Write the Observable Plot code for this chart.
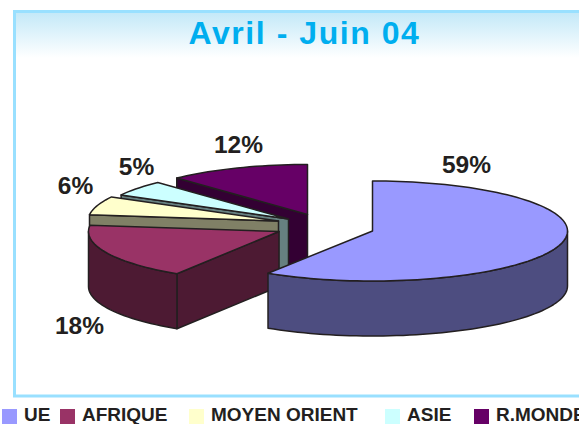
<!DOCTYPE html>
<html>
<head>
<meta charset="utf-8">
<script src="https://cdn.jsdelivr.net/npm/d3@7"></script>
<script src="https://cdn.jsdelivr.net/npm/@observablehq/plot@0.6"></script>
<style>
html,body{margin:0;padding:0;background:#fff;width:579px;height:424px;overflow:hidden}
body{position:relative;font-family:"Liberation Sans",Arial,sans-serif}
#title{position:absolute;left:188.5px;top:15px;font-weight:700;font-size:32px;line-height:36px;letter-spacing:1.55px;color:#00aeef;white-space:nowrap}
#legend{position:absolute;left:0;top:405px;width:579px;height:19px;overflow:hidden}
#legend span{position:absolute;white-space:nowrap}
#legend .sw{width:15px;height:15px;top:4px}
#legend .lb{top:0;font-weight:700;font-size:19px;line-height:19px;color:#231f20}
svg{display:block}
</style>
</head>
<body>
<div id="chart"></div>
<div id="title">Avril - Juin 04</div>
<div id="legend"></div>
<script>
// Data
const categories = ["UE", "AFRIQUE", "MOYEN ORIENT", "ASIE", "R.MONDE"];
const shares = [59, 18, 6, 5, 12];

// Styles
const topColors = ["#9999ff", "#993366", "#ffffcc", "#ccffff", "#660066"];
const wallColors = ["#4d4d80", "#4d1a33", "#808066", "#668080", "#330033"];
const ink = "#231f20";

// Layout of the 3D exploded pie
const apexes = [[372, 230.5], [278.5, 231], [278, 220.5], [288, 218.5], [307, 214]];
const radiusX = [195, 190.5, 190.5, 191, 191];
const radiusY = 50;
const depth = 55;
const labelSpots = [[466, 172], [79, 333], [75, 193], [136, 174], [238, 152]];
const legendSwatchX = [2, 60, 189, 385, 474];
const legendTextX = [24, 82, 211, 407, 496];

const arcs = d3.pie().sort(null).startAngle(0).endAngle(2 * Math.PI)(shares);
const step = Math.PI / 90;

function sampled(a0, a1) {
  const out = [];
  const n = Math.max(1, Math.ceil((a1 - a0) / step));
  for (let i = 0; i <= n; i++) out.push(a0 + (a1 - a0) * i / n);
  return out;
}

const slices = arcs.map((arc, i) => {
  const [ax, ay] = apexes[i];
  const at = (a, dz = 0) => ({x: ax + radiusX[i] * Math.sin(a), y: ay - radiusY * Math.cos(a) + dz});
  return {arc, i, ax, ay, at};
});

function faces(s) {
  const {arc, i, ax, ay, at} = s;
  const out = [];
  // radial wall at the start of the slice, when it faces the viewer
  if (arc.startAngle > Math.PI) {
    const p = at(arc.startAngle), q = at(arc.startAngle, depth);
    out.push({fill: wallColors[i], pts: [{x: ax, y: ay}, p, q, {x: ax, y: ay + depth}]});
  }
  // outer rim
  const r0 = Math.max(arc.startAngle, Math.PI / 2), r1 = Math.min(arc.endAngle, 3 * Math.PI / 2);
  if (r1 > r0) {
    const as = sampled(r0, r1);
    out.push({fill: wallColors[i], pts: [...as.map(a => at(a)), ...as.slice().reverse().map(a => at(a, depth))]});
  }
  // top
  out.push({fill: topColors[i], pts: [{x: ax, y: ay}, ...sampled(arc.startAngle, arc.endAngle).map(a => at(a))]});
  return out;
}

// Paint from back to front
const paintOrder = [4, 3, 2, 1, 0];
const polys = paintOrder.flatMap(i => faces(slices[i]));

const labels = shares.map((v, i) => ({text: v + "%", x: labelSpots[i][0], y: labelSpots[i][1]}));

const plot = Plot.plot({
  width: 579,
  height: 405,
  margin: 0,
  x: {domain: [0, 579], range: [0, 579], axis: null},
  y: {domain: [0, 405], range: [0, 405], axis: null},
  style: {
    background: "linear-gradient(#c4e9f8,#ffffff) 16px 13px / 100% 45px no-repeat",
    overflow: "hidden"
  },
  marks: [
    Plot.rect([{x1: 14.5, x2: 620, y1: 11.5, y2: 396}], {
      x1: "x1", x2: "x2", y1: "y1", y2: "y2",
      fill: "none", stroke: "#99e0ff", strokeWidth: 3
    }),
    ...polys.map(p => Plot.line(p.pts, {
      x: "x", y: "y", fill: p.fill, stroke: ink, strokeWidth: 1.5,
      strokeLinejoin: "round", curve: "linear-closed"
    })),
    Plot.text(labels, {
      x: "x", y: "y", text: "text", fill: ink, fontSize: 24.5, fontWeight: 700,
      fontFamily: "Liberation Sans, Arial, sans-serif", textAnchor: "middle", lineAnchor: "bottom"
    })
  ]
});
document.getElementById("chart").appendChild(plot);

const legend = document.getElementById("legend");
categories.forEach((name, i) => {
  const sw = document.createElement("span");
  sw.className = "sw";
  sw.style.left = legendSwatchX[i] + "px";
  sw.style.background = topColors[i];
  const lb = document.createElement("span");
  lb.className = "lb";
  lb.style.left = legendTextX[i] + "px";
  lb.textContent = name;
  legend.append(sw, lb);
});
</script>
</body>
</html>
